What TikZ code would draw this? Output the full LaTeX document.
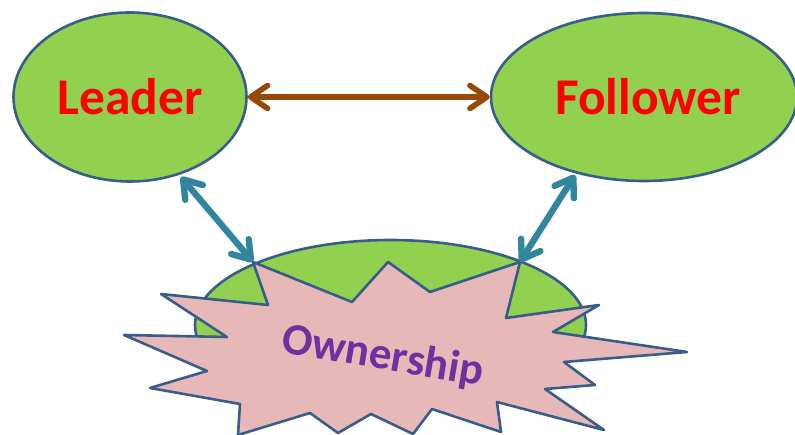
\documentclass[tikz,border=0pt]{standalone}
\usepackage{fontspec}
\setmainfont{Carlito}
\usetikzlibrary{arrows.meta,shapes.geometric}
\definecolor{leaf}{HTML}{92D050}
\definecolor{edgeblue}{HTML}{385D8A}
\definecolor{burst}{HTML}{E6B9B8}
\definecolor{teal}{HTML}{31859C}
\definecolor{brownarrow}{HTML}{984807}
\definecolor{purpletext}{HTML}{7030A0}
\tikzset{
  blob/.style={ellipse,draw=edgeblue,fill=leaf,line width=2.6pt,inner sep=0pt,minimum width=#1},
  linkarrow/.style={{Straight Barb[length=17pt,width=23pt,round]}-{Straight Barb[length=17pt,width=23pt,round]},line width=#1,line cap=round},
  bigtext/.style={font=\bfseries\fontsize{51.5}{51.5}\selectfont,text=red}
}
\begin{document}
\begin{tikzpicture}[x=1pt,y=-1pt]
\useasboundingbox (0,0) rectangle (795,435);
\clip (0,0) rectangle (795,435);
\node[blob=233pt,minimum height=169pt] (leader) at (130,97) {};
\node[blob=306pt,minimum height=168pt] (follower) at (644,97) {};
\node[blob=391pt,minimum height=170pt] (base) at (390.5,325) {};
\coordinate (tipL) at (253,262);
\coordinate (tipR) at (520,262);
\draw[edgeblue,fill=burst,line width=2.6pt,line join=round]
 (tipL) -- (352,302) -- (388,262) -- (430,292) -- (tipR) -- (506,318) -- (599,305) -- (553,332)
 -- (687,352) -- (564,362) -- (595,385) -- (545,389) -- (604,430) -- (497,402) -- (501,432)
 -- (432,409) -- (413,434) -- (371,414) -- (338,433) -- (310,413) -- (238,435) -- (240,404)
 -- (150,388) -- (207,371) -- (124,335) -- (227,337) -- (161,294) -- (268,305) -- cycle;
\node[bigtext,inner sep=0pt] (leadertext) at (130,97) {Leader};
\node[bigtext,inner sep=0pt] (followertext) at (648,97) {Follower};
\node[font=\bfseries\fontsize{45}{45}\selectfont,text=purpletext,rotate=-9.5,inner sep=0pt] (own) at (383,357) {Ownership};
\draw[linkarrow=5.6pt,brownarrow] (leader.east) -- (follower.west);
\draw[linkarrow=6.4pt,teal] (181,177) -- (tipL);
\draw[linkarrow=6.4pt,teal] (575,175) -- (tipR);
\end{tikzpicture}
\end{document}
